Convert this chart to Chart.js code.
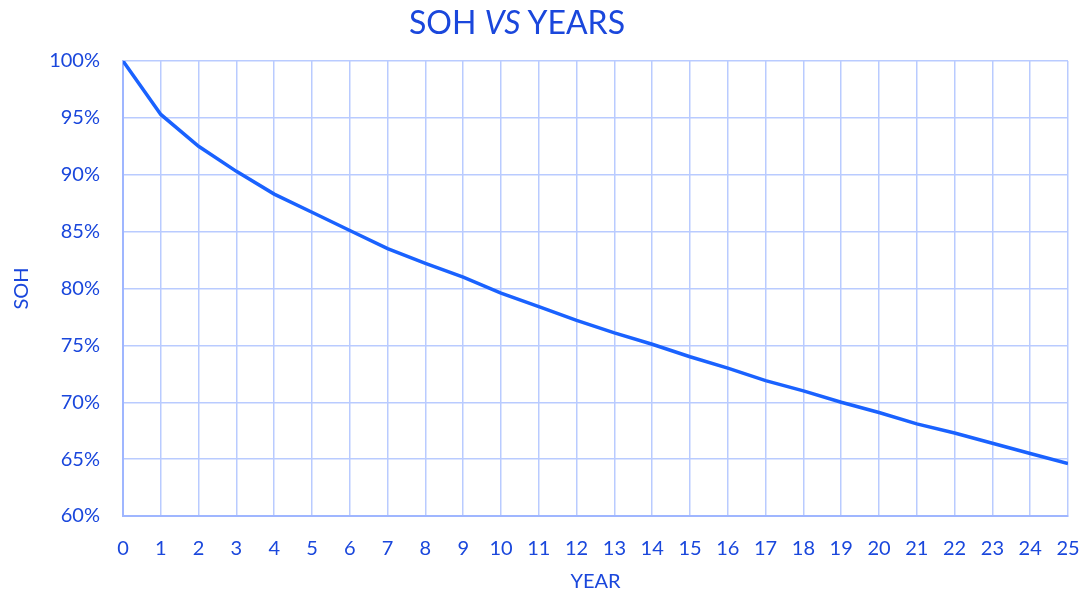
<!DOCTYPE html>
<html>
<head>
<meta charset="utf-8">
<script src="https://cdn.jsdelivr.net/npm/chart.js@4"></script>
<style>
  html, body { margin: 0; padding: 0; background: #fff; }
  #wrap { position: relative; width: 1084px; height: 596px; }
  #title {
    position: absolute; left: 0; top: 2px; width: 1034px; text-align: center;
    font-family: Lato, "Open Sans", sans-serif; font-size: 32px; color: #1a47dc;
  }
  canvas { position: absolute; left: 0; top: 0; }
</style>
</head>
<body>
<div id="wrap">
  <canvas id="sohChart" width="1084" height="596"></canvas>
  <div id="title">SOH <i>VS</i> YEARS</div>
</div>
<script>
// years on x, state of health (%) on y
const years = [0, 1, 2, 3, 4, 5, 6, 7, 8, 9, 10, 11, 12, 13, 14, 15, 16, 17, 18, 19, 20, 21, 22, 23, 24, 25];
const sohValues = [100, 95.3, 92.5, 90.3, 88.3, 86.7, 85.1, 83.5, 82.2, 81.0, 79.6, 78.4, 77.2, 76.1, 75.1,
  74.0, 73.0, 71.9, 71.0, 70.0, 69.1, 68.1, 67.3, 66.4, 65.5, 64.6];
const yTicks = [60, 65, 70, 75, 80, 85, 90, 95, 100];

const textBlue = "#1a47dc";
const gridBlue = "#b9cbff";
const fontFamily = "Lato, 'Open Sans', sans-serif";

const ctx = document.getElementById("sohChart").getContext("2d");
new Chart(ctx, {
  type: "line",
  data: {
    datasets: [{
      label: "SOH",
      data: years.map((y, i) => ({ x: y, y: sohValues[i] })),
      borderColor: "#1a62ff",
      borderWidth: 3.5,
      pointRadius: 0,
      tension: 0,
      fill: false
    }]
  },
  options: {
    responsive: false,
    animation: false,
    layout: { padding: { top: 61, right: 16, left: 0, bottom: 0 } },
    plugins: {
      legend: { display: false },
      tooltip: { enabled: false }
    },
    scales: {
      x: {
        type: "linear",
        min: 0,
        max: 25,
        afterBuildTicks: axis => { axis.ticks = years.map(v => ({ value: v })); },
        afterFit: axis => {
          axis.height = 80;
          axis.paddingLeft = 0;
          axis.paddingRight = 0;
        },
        ticks: { color: textBlue, font: { family: fontFamily, size: 20 }, padding: 21, maxRotation: 0 },
        grid: { color: gridBlue, lineWidth: 1.5, drawTicks: false },
        border: { color: "#9fb6ff", width: 2 },
        title: { display: true, text: "YEAR", color: textBlue, font: { family: fontFamily, size: 20 }, padding: { top: 0, bottom: 2 } }
      },
      y: {
        min: 60,
        max: 100,
        afterBuildTicks: axis => { axis.ticks = yTicks.map(v => ({ value: v })); },
        afterFit: axis => {
          axis.width = 123;
          axis.paddingTop = 0;
          axis.paddingBottom = 0;
        },
        ticks: { color: textBlue, font: { family: fontFamily, size: 20 }, padding: 23, callback: v => v + "%" },
        grid: { color: gridBlue, lineWidth: 1.5, drawTicks: false },
        border: { color: "#9fb6ff", width: 2 },
        title: { display: true, text: "SOH", color: textBlue, font: { family: fontFamily, size: 20 }, padding: { top: 10, bottom: 4 } }
      }
    }
  }
});
</script>
</body>
</html>
